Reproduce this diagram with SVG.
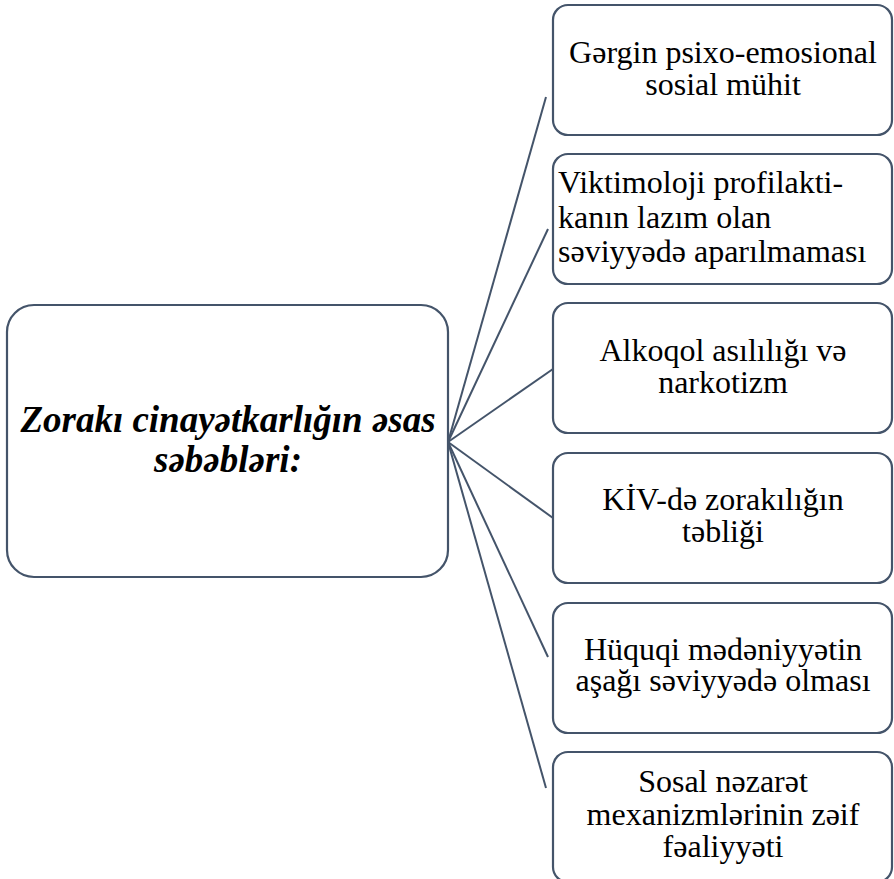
<svg xmlns="http://www.w3.org/2000/svg" width="894" height="879" viewBox="0 0 894 879">
<style>
.box{fill:#ffffff;stroke:#44546A;stroke-width:2.2}
.ln{stroke:#44546A;stroke-width:2;fill:none}
.t{font-family:"Liberation Serif","Noto Serif","DejaVu Serif",serif;font-size:32px;fill:#000}
.c{text-anchor:middle}
.main{font-family:"Liberation Serif","Noto Serif","DejaVu Serif",serif;font-size:37px;font-weight:bold;font-style:italic;fill:#000;text-anchor:middle}
</style>
<rect width="894" height="879" fill="#ffffff"/>
<g id="connectors">
<line class="ln" x1="448" y1="442" x2="546" y2="97"/>
<line class="ln" x1="448" y1="442" x2="548" y2="229"/>
<line class="ln" x1="448" y1="442" x2="553" y2="369"/>
<line class="ln" x1="448" y1="442" x2="553" y2="518"/>
<line class="ln" x1="448" y1="442" x2="548" y2="657"/>
<line class="ln" x1="448" y1="442" x2="546" y2="788"/>
</g>
<g id="center">
<rect class="box" x="7" y="305" width="441" height="272" rx="27"/>
<text class="main" x="228" y="432">Zorakı cinayətkarlığın əsas</text>
<text class="main" x="228" y="472">səbəbləri:</text>
</g>
<g id="n1">
<rect class="box" x="553" y="5" width="339" height="130" rx="15"/>
<text class="t c" x="723" y="63">Gərgin psixo-emosional</text>
<text class="t c" x="723" y="95">sosial mühit</text>
</g>
<g id="n2">
<rect class="box" x="553" y="154" width="339" height="130" rx="15"/>
<text class="t" x="558" y="193">Viktimoloji profilakti-</text>
<text class="t" x="558" y="228">kanın lazım olan</text>
<text class="t" x="558" y="262">səviyyədə aparılmaması</text>
</g>
<g id="n3">
<rect class="box" x="553" y="303" width="339" height="130" rx="15"/>
<text class="t c" x="723" y="361">Alkoqol asılılığı və</text>
<text class="t c" x="723" y="393">narkotizm</text>
</g>
<g id="n4">
<rect class="box" x="553" y="453" width="339" height="130" rx="15"/>
<text class="t c" x="723" y="510">KİV-də zorakılığın</text>
<text class="t c" x="723" y="542">təbliği</text>
</g>
<g id="n5">
<rect class="box" x="553" y="603" width="339" height="130" rx="15"/>
<text class="t c" x="723" y="660">Hüquqi mədəniyyətin</text>
<text class="t c" x="723" y="691">aşağı səviyyədə olması</text>
</g>
<g id="n6">
<rect class="box" x="553" y="752" width="339" height="130" rx="15"/>
<text class="t c" x="723" y="792">Sosal nəzarət</text>
<text class="t c" x="723" y="825">mexanizmlərinin zəif</text>
<text class="t c" x="723" y="857">fəaliyyəti</text>
</g>
</svg>
